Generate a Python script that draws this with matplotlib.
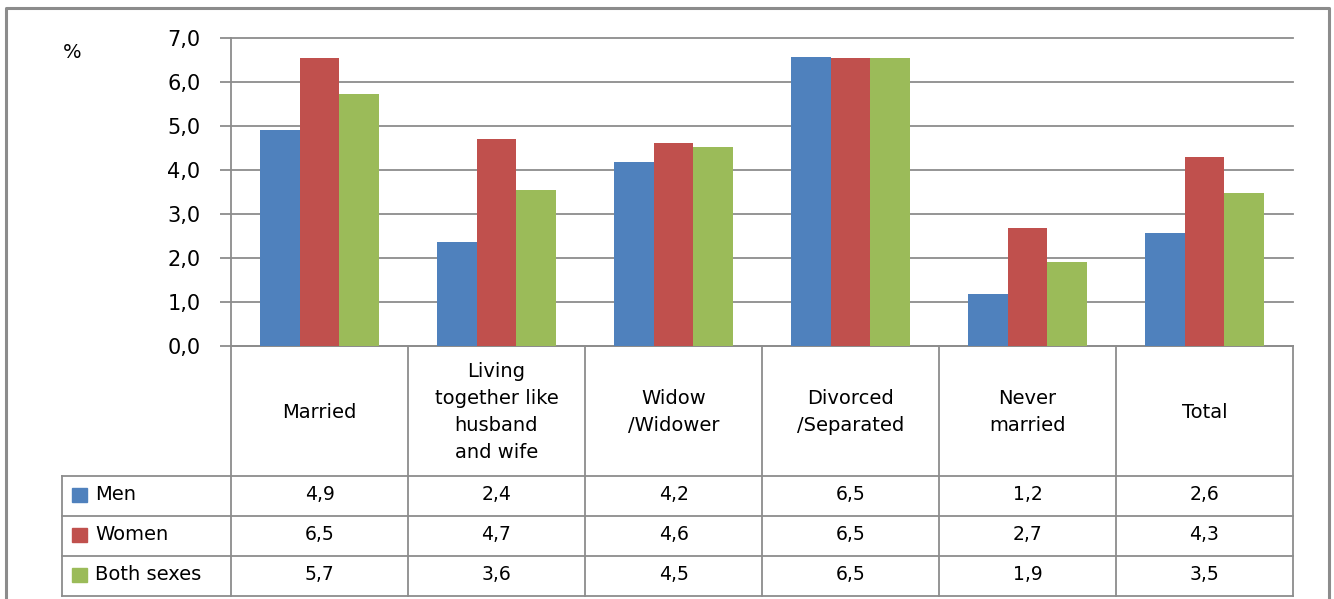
import matplotlib
matplotlib.use("Agg")
import matplotlib.pyplot as plt
from matplotlib.patches import Rectangle

# categories and series (bar heights)
categories = ["Married", "Living\ntogether like\nhusband\nand wife", "Widow\n/Widower",
              "Divorced\n/Separated", "Never\nmarried", "Total"]
series = ["Men", "Women", "Both sexes"]
men = [4.91, 2.36, 4.18, 6.57, 1.18, 2.57]
women = [6.55, 4.70, 4.61, 6.55, 2.68, 4.30]
both = [5.73, 3.55, 4.52, 6.55, 1.91, 3.48]

# values printed in the data table
men_tab = ["4,9", "2,4", "4,2", "6,5", "1,2", "2,6"]
women_tab = ["6,5", "4,7", "4,6", "6,5", "2,7", "4,3"]
both_tab = ["5,7", "3,6", "4,5", "6,5", "1,9", "3,5"]

yticks = [0, 1, 2, 3, 4, 5, 6, 7]

colors = ["#4F81BD", "#C0504D", "#9BBB59"]
grid_c = "#8C8C8C"
FONT = "DejaVu Sans"

W, H = 1334, 599
fig = plt.figure(figsize=(W / 100, H / 100), dpi=100)

# overlay in pixel coordinates for the table and frame
ov = fig.add_axes([0, 0, 1, 1])
ov.set_xlim(0, W)
ov.set_ylim(H, 0)
ov.axis("off")

x0, x1 = 231, 1293
y_top, y_zero = 38, 346
ax = fig.add_axes([x0 / W, (H - y_zero) / H, (x1 - x0) / W, (y_zero - y_top) / H])

n = len(categories)
bw = 0.224
for j, vals in enumerate([men, women, both]):
    xs = [i + 0.5 + (j - 1) * bw for i in range(n)]
    ax.bar(xs, vals, width=bw, color=colors[j], zorder=3, edgecolor="none")

ax.set_xlim(0, n)
ax.set_ylim(0, 7)
ax.set_yticks(yticks)
ax.set_yticklabels([f"{v:.1f}".replace(".", ",") for v in yticks],
                   fontsize=15, family=FONT)
ax.set_xticks([])
ax.yaxis.grid(True, color=grid_c, lw=1.3, zorder=0)
for gl in ax.get_ygridlines():
    gl.set_clip_on(False)
ax.tick_params(axis="y", length=8, width=1.3, color=grid_c, pad=14)
for s in ["top", "right"]:
    ax.spines[s].set_visible(False)
for s in ["left", "bottom"]:
    ax.spines[s].set_color(grid_c)
    ax.spines[s].set_linewidth(1.3)
ax.set_facecolor("none")

ov.text(72, 52, "%", fontsize=14, family=FONT, ha="center", va="center")

# outer frame
ov.plot([6, 6, 1329, 1329], [605, 8, 8, 605], color="#8C8C8C", lw=2.2)

# data table
col_w = (x1 - x0) / n
edges = [x0 + col_w * i for i in range(n + 1)]
row_y = [476, 516, 556, 596]
tab_left = 62
lc = dict(color=grid_c, lw=1.3)
for e in edges:
    ov.plot([e, e], [y_zero, row_y[-1]], **lc)
ov.plot([tab_left, tab_left], [row_y[0], row_y[-1]], **lc)
for y in row_y:
    ov.plot([tab_left, x1], [y, y], **lc)

for i, lab in enumerate(categories):
    ov.text(edges[i] + col_w / 2, (y_zero + row_y[0]) / 2 + 1, lab, fontsize=14,
            family=FONT, ha="center", va="center", linespacing=1.55)

for r, (name, tab) in enumerate(zip(series, [men_tab, women_tab, both_tab])):
    yc = (row_y[r] + row_y[r + 1]) / 2 - 1
    ov.add_patch(Rectangle((72, yc - 7), 15, 14, color=colors[r]))
    ov.text(95, yc, name, fontsize=14, family=FONT, ha="left", va="center")
    for i, t in enumerate(tab):
        ov.text(edges[i] + col_w / 2, yc, t, fontsize=13.5, family=FONT,
                ha="center", va="center")

fig.savefig("out.png", dpi=100)
